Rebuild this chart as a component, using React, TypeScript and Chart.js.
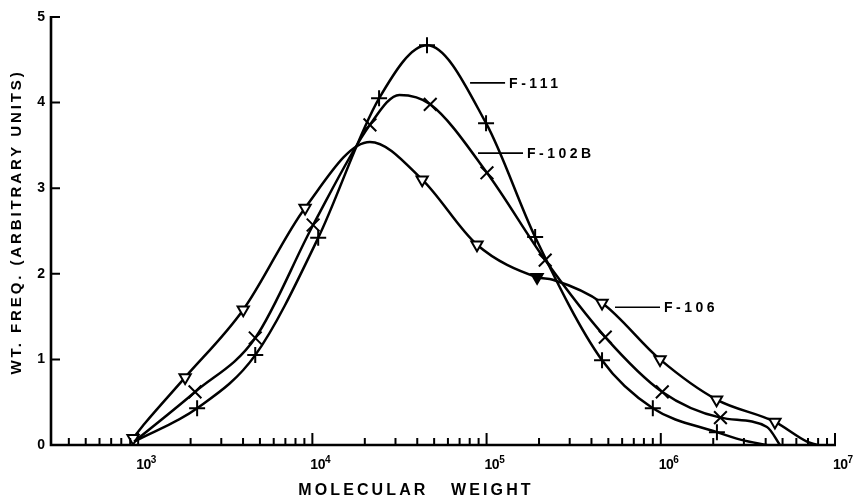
import React, { useEffect, useRef } from "react";
import { Chart, registerables } from "chart.js";

Chart.register(...registerables);

// ---- data (molecular weight, weight frequency) ----
const f111X = [950, 2180, 4700, 10800, 24150, 45500, 99300, 190000, 460000, 900000, 2100000, 2900000, 4070000];
const f111Y = [0.04, 0.43, 1.05, 2.42, 4.05, 4.67, 3.76, 2.43, 0.99, 0.43, 0.15, 0.06, 0.0];
const f111Mark = [0, 1, 1, 1, 1, 1, 1, 1, 1, 1, 1, 0, 0];

const f102X = [950, 2120, 4700, 10100, 21400, 31600, 47500, 100500, 217000, 480000, 1020000, 2200000, 4070000, 4830000];
const f102Y = [0.04, 0.62, 1.25, 2.57, 3.74, 4.09, 3.98, 3.18, 2.16, 1.26, 0.62, 0.32, 0.21, 0.0];
const f102Mark = [0, 1, 1, 1, 1, 0, 1, 1, 1, 1, 1, 1, 0, 0];

const f106X = [935, 1100, 1860, 4010, 9080, 21400, 42700, 88100, 195000, 240000, 460000, 990000, 2090000, 4520000, 6900000, 7900000];
const f106Y = [0.08, 0.26, 0.79, 1.58, 2.77, 3.54, 3.10, 2.34, 1.96, 1.93, 1.66, 1.0, 0.53, 0.27, 0.04, 0.0];
const f106Mark = [1, 0, 1, 1, 1, 0, 1, 1, 2, 0, 1, 1, 1, 1, 0, 0];

const xDecades = [1e3, 1e4, 1e5, 1e6, 1e7];
const xDecadeExponents = ["3", "4", "5", "6", "7"];
const yTicks = [0, 1, 2, 3, 4, 5];

const seriesNames = ["F-111", "F-102B", "F-106"];
const labelAnchorX = [80400, 89300, 546000];
const labelAnchorY = [4.23, 3.41, 1.61];

const xTitle = "MOLECULAR   WEIGHT";
const yTitle = "WT. FREQ. (ARBITRARY UNITS)";

const FONT = "'Liberation Sans', Arial, Helvetica, sans-serif";

function pts(xs: number[], ys: number[]) {
  return xs.map((x, i) => ({ x, y: ys[i] }));
}

const decor = {
  id: "decor",
  afterDraw(chart: any) {
    const { ctx, chartArea, scales } = chart;
    const { left, right, top, bottom } = chartArea;
    const xs = scales.x;
    const ys = scales.y;
    ctx.save();
    ctx.strokeStyle = "#000";
    ctx.fillStyle = "#000";
    ctx.lineCap = "butt";
    // axes
    ctx.lineWidth = 2.6;
    ctx.beginPath();
    ctx.moveTo(left, top - 1);
    ctx.lineTo(left, bottom);
    ctx.lineTo(right + 1, bottom);
    ctx.stroke();
    // y ticks (inside)
    ctx.lineWidth = 2;
    ctx.beginPath();
    for (const v of yTicks) {
      const py = ys.getPixelForValue(v);
      ctx.moveTo(left, py);
      ctx.lineTo(left + 9, py);
    }
    ctx.stroke();
    // x ticks (inside)
    ctx.beginPath();
    for (let e = 2; e <= 7; e++) {
      for (let m = 1; m <= 9; m++) {
        const v = m * Math.pow(10, e);
        if (v < xs.min * 1.01 || v > xs.max * 1.001) continue;
        const px = xs.getPixelForValue(v);
        const len = m === 1 ? 12 : 7;
        ctx.moveTo(px, bottom);
        ctx.lineTo(px, bottom - len);
      }
    }
    ctx.stroke();

    // x decade labels: "10" with superscript exponent
    ctx.textAlign = "left";
    ctx.textBaseline = "alphabetic";
    xDecades.forEach((v, i) => {
      const px = xs.getPixelForValue(v);
      ctx.font = `bold 14px ${FONT}`;
      (ctx as any).letterSpacing = "-0.5px";
      ctx.fillText("10", px - 2, bottom + 24);
      const w = ctx.measureText("10").width;
      ctx.font = `bold 10px ${FONT}`;
      (ctx as any).letterSpacing = "0px";
      ctx.fillText(xDecadeExponents[i], px - 2 + w, bottom + 18);
    });

    // series labels with leader lines
    const lead = [35, 45, 45];
    ctx.lineWidth = 1.6;
    ctx.font = `bold 14px ${FONT}`;
    (ctx as any).letterSpacing = "3.5px";
    ctx.textBaseline = "middle";
    ctx.textAlign = "left";
    seriesNames.forEach((name, i) => {
      const px = xs.getPixelForValue(labelAnchorX[i]);
      const py = ys.getPixelForValue(labelAnchorY[i]);
      ctx.beginPath();
      ctx.moveTo(px, py);
      ctx.lineTo(px + lead[i], py);
      ctx.stroke();
      ctx.fillText(name, px + lead[i] + 4, py + 1);
    });

    // x title
    ctx.font = `bold 16px ${FONT}`;
    (ctx as any).letterSpacing = "3.1px";
    ctx.textAlign = "center";
    ctx.textBaseline = "alphabetic";
    ctx.fillText(xTitle, (left + right) / 2 - 27, 495);

    // y title
    ctx.font = `bold 15px ${FONT}`;
    (ctx as any).letterSpacing = "2.9px";
    ctx.translate(17, 222);
    ctx.rotate(-Math.PI / 2);
    ctx.textAlign = "center";
    ctx.textBaseline = "middle";
    ctx.fillText(yTitle, 0, 0);
    ctx.restore();
  },
};

export default function App() {
  const ref = useRef<HTMLCanvasElement | null>(null);
  useEffect(() => {
    if (!ref.current) return;
    Chart.defaults.font.family = FONT;
    const common = {
      borderColor: "#000",
      borderWidth: 2.5,
      pointBorderColor: "#000",
      pointBorderWidth: 2,
      cubicInterpolationMode: "monotone" as const,
      fill: false,
    };
    const chart = new Chart(ref.current, {
      type: "line",
      data: {
        datasets: [
          {
            ...common,
            label: seriesNames[0],
            data: pts(f111X, f111Y),
            pointStyle: "cross",
            pointRadius: f111Mark.map((m) => (m ? 8 : 0)),
            pointBackgroundColor: "#fff",
          },
          {
            ...common,
            label: seriesNames[1],
            data: pts(f102X, f102Y),
            pointStyle: "crossRot",
            pointRadius: f102Mark.map((m) => (m ? 9 : 0)),
            pointBackgroundColor: "#fff",
          },
          {
            ...common,
            label: seriesNames[2],
            data: pts(f106X, f106Y),
            pointStyle: "triangle",
            pointRotation: 180,
            pointRadius: f106Mark.map((m) => (m ? 6.5 : 0)),
            pointBackgroundColor: f106Mark.map((m) => (m === 2 ? "#000" : "#fff")),
          },
        ],
      },
      options: {
        animation: false,
        responsive: false,
        events: [],
        layout: { padding: { top: 17, right: 24, left: 0, bottom: 0 } },
        plugins: { legend: { display: false }, tooltip: { enabled: false } },
        scales: {
          x: {
            type: "logarithmic",
            min: 316,
            max: 1e7,
            grid: { display: false, drawTicks: false },
            border: { display: false },
            afterFit: (s: any) => {
              s.height = 53;
            },
            afterBuildTicks: (s: any) => {
              s.ticks = xDecades.map((v) => ({ value: v }));
            },
            ticks: { display: false },
          },
          y: {
            min: 0,
            max: 5,
            grid: { display: false, drawTicks: false },
            border: { display: false },
            afterFit: (s: any) => {
              s.width = 51;
            },
            afterBuildTicks: (s: any) => {
              s.ticks = yTicks.map((v) => ({ value: v }));
            },
            ticks: {
              padding: 6,
              color: "#000",
              font: { size: 14, weight: "bold" },
              callback: (v: any) => String(v),
            },
          },
        },
      },
      plugins: [decor],
    });
    return () => chart.destroy();
  }, []);
  return (
    <div style={{ position: "absolute", left: 0, top: 0, width: 859, height: 498, background: "#fff" }}>
      <canvas ref={ref} width={859} height={498} />
    </div>
  );
}
